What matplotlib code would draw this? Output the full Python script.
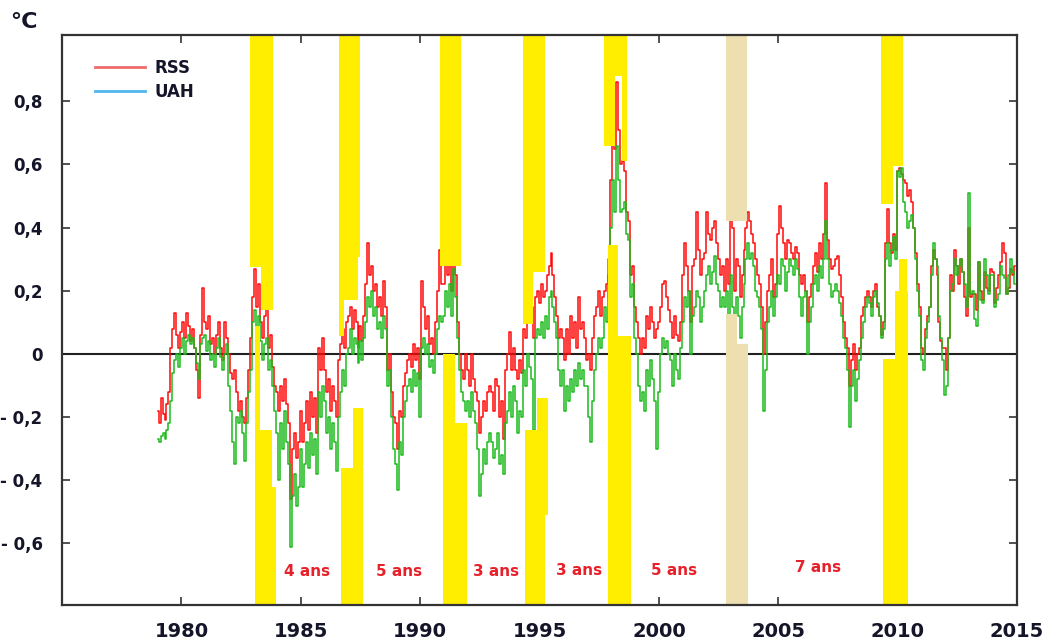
import numpy as np
import matplotlib
matplotlib.use("Agg")
import matplotlib.pyplot as plt
from matplotlib.lines import Line2D

# Anomalies mensuelles (°C), janvier 1979 -> décembre 2014
uah = [
    -0.27, -0.28, -0.26, -0.25, -0.27, -0.24, -0.22, -0.15, -0.06, -0.02, 0.00, -0.04,   # 1979
    0.02, 0.05, 0.00, 0.04, 0.06, 0.03, 0.05, 0.02, -0.03, -0.08, 0.03, 0.05,            # 1980
    0.06, 0.01, 0.04, -0.02, 0.00, -0.04, 0.02, 0.05, -0.01, -0.05, 0.00, 0.03,          # 1981
    -0.10, -0.18, -0.28, -0.35, -0.20, -0.22, -0.18, -0.25, -0.34, -0.22, -0.12, -0.05,  # 1982
    0.10, 0.14, 0.06, 0.12, 0.04, -0.02, 0.03, 0.05, -0.05, -0.02, -0.10, -0.18,         # 1983
    -0.25, -0.40, -0.22, -0.30, -0.18, -0.28, -0.35, -0.61, -0.45, -0.38, -0.48, -0.42,  # 1984
    -0.30, -0.42, -0.35, -0.28, -0.36, -0.25, -0.32, -0.27, -0.38, -0.12, -0.20, -0.10,  # 1985
    -0.15, -0.25, -0.20, -0.30, -0.22, -0.28, -0.37, -0.20, -0.12, -0.05, -0.10, 0.00,   # 1986
    0.02, 0.08, 0.00, 0.05, 0.03, -0.03, 0.04, -0.02, 0.05, 0.10, 0.18, 0.15,            # 1987
    0.20, 0.12, 0.15, 0.08, 0.10, 0.05, 0.12, 0.08, -0.10, -0.05, -0.20, -0.30,          # 1988
    -0.35, -0.43, -0.28, -0.32, -0.20, -0.15, -0.10, -0.08, -0.12, -0.05, -0.10, -0.06,  # 1989
    -0.20, 0.02, 0.05, 0.00, 0.03, -0.04, -0.02, -0.06, 0.00, 0.08, 0.12, 0.10,          # 1990
    0.12, 0.20, 0.15, 0.22, 0.12, 0.27, 0.18, 0.05, -0.05, -0.12, -0.15, -0.18,          # 1991
    -0.15, -0.20, -0.12, -0.18, -0.22, -0.30, -0.45, -0.38, -0.30, -0.35, -0.28, -0.25,  # 1992
    -0.28, -0.33, -0.30, -0.25, -0.35, -0.32, -0.38, -0.22, -0.18, -0.12, -0.20, -0.10,  # 1993
    -0.15, -0.25, -0.18, -0.20, -0.05, -0.10, 0.00, -0.04, -0.08, -0.24, 0.05, 0.08,     # 1994
    0.06, 0.10, 0.05, 0.12, 0.08, 0.18, 0.20, 0.15, 0.10, 0.05, -0.05, -0.10,            # 1995
    -0.05, -0.18, -0.10, -0.15, -0.08, -0.12, -0.05, -0.10, -0.03, -0.08, -0.05, -0.10,  # 1996
    -0.10, -0.20, -0.28, -0.15, -0.05, 0.00, 0.05, 0.02, 0.05, 0.15, 0.10, 0.30,         # 1997
    0.40, 0.55, 0.45, 0.66, 0.55, 0.45, 0.46, 0.48, 0.38, 0.36, 0.18, 0.22,              # 1998
    0.05, 0.00, -0.10, -0.15, -0.12, -0.18, -0.05, -0.10, -0.02, -0.08, -0.15, -0.30,    # 1999
    -0.12, 0.00, 0.05, 0.02, 0.04, 0.00, -0.02, -0.10, 0.00, -0.05, -0.08, 0.02,         # 2000
    0.10, 0.18, 0.15, 0.20, 0.00, 0.12, 0.15, 0.20, 0.18, 0.10, 0.15, 0.20,              # 2001
    0.25, 0.28, 0.22, 0.26, 0.31, 0.22, 0.20, 0.15, 0.18, 0.15, 0.20, 0.12,              # 2002
    0.25, 0.15, 0.10, 0.18, 0.12, 0.05, 0.15, 0.22, 0.30, 0.35, 0.30, 0.32,              # 2003
    0.28, 0.20, 0.18, 0.15, 0.08, -0.18, -0.05, 0.10, 0.15, 0.20, 0.12, 0.18,            # 2004
    0.25, 0.22, 0.30, 0.28, 0.20, 0.26, 0.30, 0.28, 0.25, 0.30, 0.27, 0.18,              # 2005
    0.12, 0.18, 0.20, 0.00, 0.10, 0.15, 0.22, 0.25, 0.20, 0.28, 0.24, 0.30,              # 2006
    0.42, 0.30, 0.22, 0.18, 0.20, 0.22, 0.20, 0.16, 0.12, 0.05, 0.02, -0.05,             # 2007
    -0.23, -0.10, -0.05, -0.15, -0.08, -0.02, 0.05, 0.10, 0.15, 0.18, 0.16, 0.12,        # 2008
    0.18, 0.20, 0.16, 0.12, 0.05, 0.08, 0.30, 0.35, 0.28, 0.33, 0.37, 0.30,              # 2009
    0.58, 0.56, 0.59, 0.48, 0.45, 0.40, 0.42, 0.44, 0.40, 0.30, 0.20, 0.12,              # 2010
    -0.02, -0.05, 0.05, 0.10, 0.15, 0.25, 0.35, 0.30, 0.28, 0.12, 0.05, -0.02,           # 2011
    -0.13, -0.10, 0.05, 0.20, 0.22, 0.30, 0.25, 0.28, 0.30, 0.26, 0.22, 0.15,            # 2012
    0.51, 0.19, 0.20, 0.11, 0.09, 0.29, 0.17, 0.16, 0.30, 0.25, 0.19, 0.25,              # 2013
    0.25, 0.15, 0.17, 0.19, 0.28, 0.25, 0.24, 0.19, 0.25, 0.30, 0.26, 0.22,              # 2014
]

rss = [
    -0.18, -0.22, -0.14, -0.19, -0.21, -0.16, -0.12, 0.02, 0.08, 0.13, 0.06, 0.02,       # 1979
    0.07, 0.10, 0.05, 0.13, 0.09, 0.04, 0.08, 0.02, -0.05, -0.14, 0.06, 0.21,            # 1980
    0.10, 0.08, 0.12, 0.03, 0.05, 0.00, 0.06, 0.10, 0.02, -0.02, 0.10, 0.05,             # 1981
    0.00, -0.06, -0.08, -0.05, -0.12, -0.18, -0.15, -0.20, -0.22, -0.14, -0.05, 0.05,    # 1982
    0.18, 0.27, 0.15, 0.22, 0.10, 0.05, 0.12, 0.15, 0.02, 0.06, -0.04, -0.10,            # 1983
    -0.12, -0.18, -0.10, -0.15, -0.08, -0.16, -0.22, -0.46, -0.30, -0.25, -0.33, -0.28,  # 1984
    -0.18, -0.28, -0.22, -0.15, -0.24, -0.12, -0.20, -0.14, -0.25, 0.02, -0.05, 0.05,    # 1985
    -0.05, -0.12, -0.08, -0.18, -0.10, -0.15, -0.20, -0.02, 0.03, 0.08, 0.02, 0.10,      # 1986
    0.12, 0.15, 0.08, 0.14, 0.10, 0.02, 0.09, 0.04, 0.12, 0.22, 0.35, 0.25,              # 1987
    0.28, 0.20, 0.22, 0.15, 0.18, 0.12, 0.23, 0.15, -0.05, 0.00, -0.12, -0.20,           # 1988
    -0.22, -0.30, -0.18, -0.20, -0.10, -0.06, -0.02, 0.00, -0.04, 0.03, -0.02, 0.02,     # 1989
    -0.08, 0.23, 0.15, 0.08, 0.12, 0.03, 0.05, 0.00, 0.10, 0.20, 0.33, 0.22,             # 1990
    0.22, 0.30, 0.25, 0.30, 0.20, 0.33, 0.25, 0.10, 0.00, -0.05, -0.08, 0.00,            # 1991
    -0.05, -0.10, 0.00, -0.08, -0.12, -0.15, -0.25, -0.20, -0.15, -0.18, -0.12, -0.10,   # 1992
    -0.12, -0.18, -0.08, -0.10, -0.20, -0.15, -0.27, -0.05, 0.00, 0.07, -0.05, 0.02,     # 1993
    -0.05, -0.08, -0.02, -0.06, 0.08, 0.05, 0.12, 0.10, 0.15, 0.05, 0.18, 0.20,          # 1994
    0.16, 0.22, 0.18, 0.20, 0.25, 0.28, 0.32, 0.25, 0.18, 0.12, 0.05, 0.08,              # 1995
    0.05, -0.02, 0.08, 0.00, 0.12, 0.05, 0.10, 0.02, 0.18, 0.08, 0.10, 0.05,             # 1996
    -0.02, 0.00, -0.05, 0.05, 0.12, 0.15, 0.20, 0.12, 0.18, 0.20, 0.22, 0.25,            # 1997
    0.55, 0.74, 0.65, 0.86, 0.71, 0.60, 0.61, 0.58, 0.45, 0.42, 0.25, 0.28,              # 1998
    0.15, 0.10, 0.05, 0.00, 0.05, 0.02, 0.12, 0.08, 0.15, 0.10, 0.05, 0.08,              # 1999
    0.10, 0.15, 0.22, 0.23, 0.18, 0.14, 0.10, 0.05, 0.12, 0.06, 0.04, 0.10,              # 2000
    0.25, 0.35, 0.28, 0.20, 0.10, 0.28, 0.30, 0.45, 0.33, 0.25, 0.30, 0.32,              # 2001
    0.45, 0.38, 0.36, 0.40, 0.42, 0.35, 0.30, 0.25, 0.28, 0.20, 0.30, 0.22,              # 2002
    0.45, 0.40, 0.20, 0.30, 0.28, 0.18, 0.25, 0.33, 0.40, 0.45, 0.42, 0.38,              # 2003
    0.35, 0.30, 0.25, 0.22, 0.15, 0.00, 0.10, 0.20, 0.25, 0.30, 0.18, 0.22,              # 2004
    0.38, 0.47, 0.40, 0.35, 0.30, 0.36, 0.35, 0.32, 0.30, 0.34, 0.32, 0.25,              # 2005
    0.22, 0.25, 0.20, 0.10, 0.18, 0.22, 0.28, 0.32, 0.26, 0.35, 0.30, 0.38,              # 2006
    0.54, 0.36, 0.30, 0.27, 0.28, 0.30, 0.31, 0.25, 0.18, 0.10, 0.05, 0.02,              # 2007
    -0.10, -0.02, 0.03, -0.05, 0.00, 0.02, 0.12, 0.15, 0.18, 0.20, 0.18, 0.15,           # 2008
    0.20, 0.22, 0.15, 0.12, 0.06, 0.10, 0.35, 0.46, 0.35, 0.32, 0.38, 0.33,              # 2009
    0.58, 0.59, 0.57, 0.55, 0.54, 0.50, 0.52, 0.48, 0.40, 0.32, 0.22, 0.15,              # 2010
    0.02, 0.00, 0.08, 0.12, 0.15, 0.28, 0.33, 0.30, 0.25, 0.10, 0.04, 0.02,              # 2011
    0.02, -0.05, 0.05, 0.25, 0.20, 0.33, 0.28, 0.22, 0.30, 0.26, 0.18, 0.12,             # 2012
    0.40, 0.18, 0.19, 0.19, 0.14, 0.29, 0.20, 0.17, 0.26, 0.21, 0.20, 0.27,              # 2013
    0.26, 0.16, 0.21, 0.25, 0.29, 0.35, 0.32, 0.19, 0.21, 0.27, 0.25, 0.28,              # 2014
]

# Bandes verticales (année début, année fin, bas, haut) ; None = bord du graphique
band_x0 = [1982.87, 1983.34, 1983.08, 1983.08, 1983.08,
           1986.60, 1986.60, 1986.60, 1987.19, 1986.69,
           1990.83, 1990.96, 1990.96,
           1994.31, 1994.31, 1994.39, 1994.90, 1994.90,
           1997.70, 1998.16, 1998.46, 1997.87, 1998.29,
           2002.81, 2002.81, 2002.81,
           2009.30, 2009.81, 2010.06, 2009.89, 2009.39]
band_x1 = [1983.75, 1983.84, 1983.29, 1983.80, 1983.96,
           1987.48, 1987.40, 1986.81, 1987.61, 1987.61,
           1991.71, 1991.46, 1991.96,
           1995.23, 1994.73, 1994.90, 1995.36, 1995.23,
           1998.16, 1998.46, 1998.67, 1998.29, 1998.83,
           2003.69, 2003.27, 2003.73,
           2009.81, 2010.23, 2010.39, 2010.44, 2010.35]
band_lo = [0.275, 0.14, None, None, None,
           0.307, 0.17, 0.057, None, None,
           0.28, None, None,
           0.26, 0.095, None, -0.51, None,
           0.66, 0.88, 0.61, None, None,
           0.42, None, None,
           0.475, 0.595, None, None, None]
band_hi = [None, None, 0.089, -0.24, -0.42,
           None, None, None, -0.17, -0.36,
           None, 0.0, -0.22,
           None, None, -0.24, -0.14, -0.51,
           None, None, None, 0.345, 0.057,
           None, 0.127, 0.03,
           None, None, 0.30, 0.20, -0.015]
band_tan = [False] * 23 + [True] * 3 + [False] * 5

# Durées entre les bandes
gap_labels = ["4 ans", "5 ans", "3 ans", "3 ans", "5 ans", "7 ans"]
gap_x = [1985.27, 1989.10, 1993.19, 1996.67, 2000.65, 2006.67]
gap_y = [-0.69, -0.69, -0.69, -0.685, -0.685, -0.675]

x_ticks = [1980, 1985, 1990, 1995, 2000, 2005, 2010, 2015]
y_ticks = [-0.6, -0.4, -0.2, 0, 0.2, 0.4, 0.6, 0.8]
y_labels = ["- 0,6", "- 0,4", "- 0,2", "0", "0,2", "0,4", "0,6", "0,8"]

YMIN, YMAX = -0.795, 1.01
TXT = "#15152a"

fig = plt.figure(figsize=(10.48, 6.43), dpi=100)
ax = fig.add_axes([0.0592, 0.0591, 0.9113, 0.8865])

months = 1979 + np.arange(len(rss)) / 12.0
ax.plot(months, rss, color="#ff0a0a", lw=1.1, drawstyle="steps-mid", zorder=2)
ax.plot(months, uah, color="#1cba1c", lw=1.1, drawstyle="steps-mid", zorder=2.05)
ax.axhline(0, color="#202020", lw=1.5, zorder=1.9)

for x0, x1, lo, hi, tan in zip(band_x0, band_x1, band_lo, band_hi, band_tan):
    lo = YMIN - 0.1 if lo is None else lo
    hi = YMAX + 0.1 if hi is None else hi
    ax.bar(x0, hi - lo, width=x1 - x0, bottom=lo, align="edge",
           color="#eedfb0" if tan else "#ffee00", linewidth=0, zorder=2.2)

for lab, gx, gy in zip(gap_labels, gap_x, gap_y):
    ax.text(gx, gy, lab, color="#e8202a", fontsize=11, fontweight="bold",
            ha="center", va="center", zorder=3)

ax.set_xlim(1975, 2015)
ax.set_ylim(YMIN, YMAX)
ax.set_xticks(x_ticks)
ax.set_xticklabels([str(t) for t in x_ticks], fontsize=14, fontweight="bold", color=TXT)
ax.set_yticks(y_ticks)
ax.set_yticklabels(y_labels, fontsize=12, fontweight="bold", color=TXT)
ax.tick_params(axis="both", direction="in", length=6, width=1.2, color="#333333",
               top=True, right=True)
ax.tick_params(axis="x", pad=12)
ax.tick_params(axis="y", pad=14)
for s in ax.spines.values():
    s.set_linewidth(1.6)
    s.set_color("#333333")

fig.text(10 / 1048, 1 - 22 / 643, "°C", fontsize=16, fontweight="bold",
         color=TXT, ha="left", va="center")

handles = [Line2D([], [], color="#f06a6a", lw=2),
           Line2D([], [], color="#4fb6ee", lw=2)]
ax.legend(handles, ["RSS", "UAH"], loc="upper left", bbox_to_anchor=(0.0346, 0.958),
          frameon=False, borderpad=0, borderaxespad=0, handlelength=3.0,
          handletextpad=0.55, labelspacing=0.35,
          prop={"size": 12, "weight": "bold"}, labelcolor=TXT)

fig.savefig("out.png", dpi=100)
